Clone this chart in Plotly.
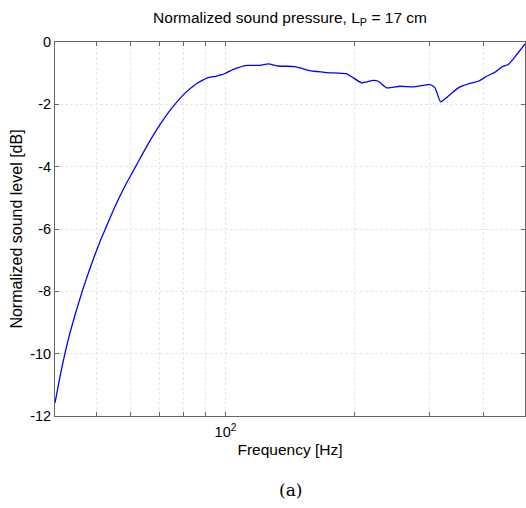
import plotly.graph_objects as go

freq_hz = [40, 41.09, 42.21, 43.36, 44.54, 46.42, 48.28, 49.60, 50.95, 52.61,
           55.22, 58.27, 61.91, 66.04, 70.32, 74.91, 80.46, 84.90, 87.2, 91.2,
           95.0, 98.0, 99.7, 104.3, 112.1, 120.4, 125.9, 132.8, 145.3, 157.5,
           172.2, 191.8, 198.7, 207.9, 221.2, 227.3, 237.8, 255.4, 274.4, 300.1,
           308.3, 317.8, 334.1, 349.4, 372.0, 389.0, 406.9, 425.5, 443.6, 457.1,
           478.4, 500]
level_db = [-11.58, -10.73, -9.98, -9.33, -8.76, -7.95, -7.26, -6.82, -6.40, -5.95,
            -5.28, -4.62, -3.96, -3.26, -2.65, -2.12, -1.64, -1.37, -1.27, -1.14,
            -1.10, -1.05, -1.01, -0.88, -0.75, -0.75, -0.70, -0.77, -0.79, -0.92,
            -0.98, -1.02, -1.15, -1.31, -1.23, -1.26, -1.47, -1.42, -1.44, -1.37,
            -1.47, -1.92, -1.69, -1.47, -1.33, -1.26, -1.10, -0.97, -0.78, -0.72,
            -0.40, -0.06]

x_tickvals = [50, 60, 70, 80, 90, 100, 200, 300, 400]
x_ticktext = ["", "", "", "", "", "10<sup>2</sup>", "", "", ""]
y_tickvals = [0, -2, -4, -6, -8, -10, -12]
y_ticktext = ["0", "-2", "-4", "-6", "-8", "-10", "-12"]

FONT = "Liberation Sans, Arial"

fig = go.Figure()
fig.add_trace(go.Scatter(x=freq_hz, y=level_db, mode="lines",
                         line=dict(color="#0000ff", width=1.3),
                         line_shape="spline", line_smoothing=0.5,
                         showlegend=False))

axis_common = dict(
    showline=True, linecolor="#666666", linewidth=1, mirror="ticks",
    ticks="inside", ticklen=4, tickcolor="#666666",
    showgrid=True, gridcolor="#e6e6e6", griddash="3px,2px", gridwidth=1,
    zeroline=False,
    tickfont=dict(family=FONT, size=14.5, color="#000000"),
)

fig.update_xaxes(type="log", range=[1.60206, 2.69897],
                 tickvals=x_tickvals, ticktext=x_ticktext,
                 ticklabelstandoff=3,
                 title=dict(text="Frequency [Hz]", standoff=4,
                            font=dict(family=FONT, size=15.5, color="#000")),
                 **axis_common)
fig.update_yaxes(range=[-12, 0], tickvals=y_tickvals, ticktext=y_ticktext,
                 title=dict(text="Normalized sound level [dB]", standoff=3,
                            font=dict(family=FONT, size=16, color="#000")),
                 **axis_common)

fig.update_layout(
    width=526, height=508,
    margin=dict(l=55, r=1, t=42, b=92),
    plot_bgcolor="white", paper_bgcolor="white",
    title=dict(text="Normalized sound pressure, L<sub>P</sub> = 17 cm",
               x=0.5514, xanchor="center", y=0.965, yanchor="middle",
               font=dict(family=FONT, size=15.5, color="#000")),
    annotations=[dict(text="(a)", x=0.5, xref="paper",
                      y=-(490 - 416) / 374, yref="paper", yanchor="middle",
                      showarrow=False,
                      font=dict(family="DejaVu Serif, Liberation Serif", size=17, color="#000"))],
)

fig.write_html("out.html")
